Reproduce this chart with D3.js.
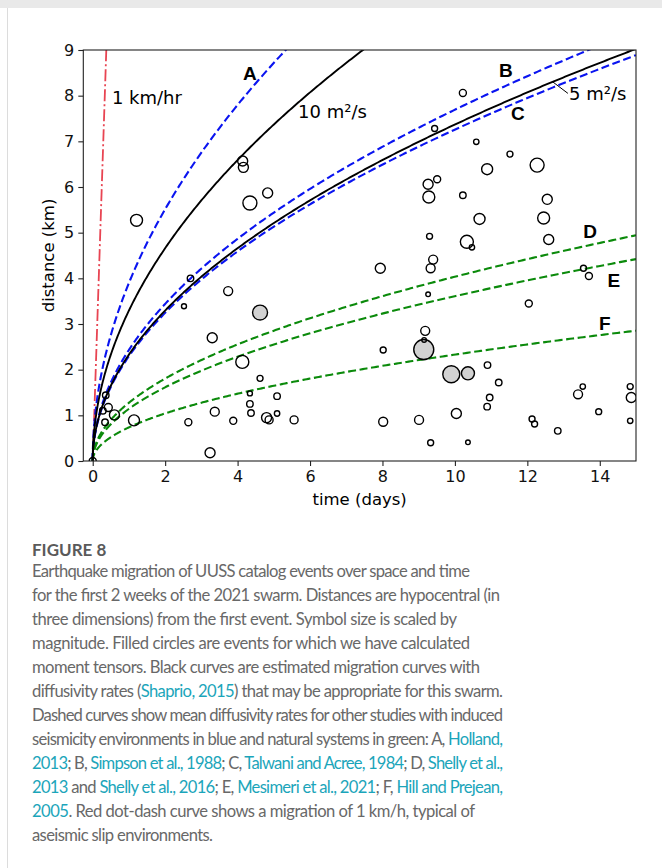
<!DOCTYPE html>
<html>
<head>
<meta charset="utf-8">
<script src="https://cdn.jsdelivr.net/npm/d3@7"></script>
<style>
  html, body { margin: 0; padding: 0; background: #fff; }
  svg { display: block; }
  .tick text { font-family: "DejaVu Sans", sans-serif; font-size: 16px; fill: #111; }
  .axis path, .axis line { stroke: #222; stroke-width: 1.1px; }
  .ann { font-family: "DejaVu Sans", sans-serif; font-size: 18px; fill: #000; }
  .letter { font-family: "Liberation Sans", Arial, sans-serif; font-size: 19px; font-weight: bold; fill: #000; }
  .caption { font-family: Lato, "Noto Sans", sans-serif; font-size: 16.6px; fill: #686868; }
  .caption .link { fill: #1ba5ba; }
</style>
</head>
<body>
<div id="chart"></div>
<script>
// event catalogue: time since first event (days), hypocentral distance (km), magnitude
var eventTime = [1.21, 4.14, 4.16, 4.83, 4.34, 2.70, 3.74, 2.52, 4.62, 3.30,
    4.13, 4.62, 4.34, 5.09, 4.34, 4.37, 5.09, 3.37, 3.88, 2.64,
    4.80, 4.87, 5.56, 3.24, 1.14, 0.60, 0.43, 0.36, 0.28, 0.34,
    0.00, 10.22, 9.44, 9.26, 9.51, 9.28, 10.22, 9.30, 10.68, 9.40,
    9.33, 7.94, 9.26, 10.59, 11.52, 10.89, 12.27, 12.55, 12.45, 12.59,
    10.33, 10.47, 13.55, 13.70, 12.04, 10.36, 10.90, 11.21, 10.96, 10.89,
    10.04, 12.13, 12.20, 12.84, 10.36, 13.40, 13.53, 13.97, 14.84, 14.87,
    14.84, 9.18, 9.14, 9.15, 8.02, 9.90, 8.02, 9.01, 9.33];
var eventDist = [5.27, 6.57, 6.43, 5.87, 5.65, 4.00, 3.72, 3.39, 3.25, 2.70,
    2.17, 1.81, 1.48, 1.42, 1.25, 1.05, 1.04, 1.08, 0.88, 0.85,
    0.95, 0.90, 0.90, 0.18, 0.89, 1.01, 1.17, 1.44, 1.10, 0.85,
    0.00, 8.06, 7.28, 6.06, 6.17, 5.78, 5.82, 4.92, 5.30, 4.41,
    4.22, 4.22, 3.65, 6.99, 6.72, 6.39, 6.48, 5.73, 5.32, 4.85,
    4.80, 4.68, 4.22, 4.05, 3.45, 1.92, 2.10, 1.72, 1.39, 1.19,
    1.04, 0.92, 0.81, 0.66, 0.41, 1.46, 1.63, 1.08, 1.63, 1.39,
    0.88, 2.85, 2.44, 2.65, 2.43, 1.90, 0.86, 0.90, 0.40];
var eventMag = [1.93, 1.67, 1.67, 1.67, 2.20, 1.20, 1.53, 1.00, 2.33, 1.67,
    2.07, 1.13, 1.00, 1.20, 1.20, 1.20, 1.05, 1.53, 1.27, 1.27,
    1.67, 1.40, 1.40, 1.67, 1.80, 1.67, 1.40, 1.20, 1.20, 1.20,
    1.27, 1.27, 1.13, 1.67, 1.27, 1.93, 1.20, 1.13, 1.80, 1.53,
    1.53, 1.67, 0.95, 1.05, 1.13, 1.80, 2.20, 1.67, 1.93, 1.67,
    2.07, 1.05, 1.13, 1.27, 1.27, 2.07, 1.20, 1.20, 1.20, 1.20,
    1.67, 1.13, 1.13, 1.20, 0.95, 1.53, 1.05, 1.13, 1.13, 1.67,
    1.05, 1.53, 3.00, 0.95, 1.13, 2.60, 1.53, 1.53, 1.13];
// events with a moment tensor (drawn filled)
var momentTensorEvents = [8, 55, 72, 75];

// migration curves r = sqrt(4*pi*D*t), D in m^2/s
var blackDiffusivity = [10, 5];
var blackLabels = ["10 m\u00b2/s", "5 m\u00b2/s"];
var studyLetters = ["A", "B", "C", "D", "E", "F"];
var studyDiffusivity = [14, 5.45, 4.85, 1.5, 1.2, 0.5];
var studyKind = ["induced", "induced", "induced", "natural", "natural", "natural"];
var slipRate = 1; // km/hr
var xTicks = [0, 2, 4, 6, 8, 10, 12, 14];
var yTicks = [0, 1, 2, 3, 4, 5, 6, 7, 8, 9];

var captionTitle = "FIGURE 8";
var captionLines = [
    [["Earthquake migration of UUSS catalog events over space and time"]],
    [["for the first 2 weeks of the 2021 swarm. Distances are hypocentral (in"]],
    [["three dimensions) from the first event. Symbol size is scaled by"]],
    [["magnitude. Filled circles are events for which we have calculated"]],
    [["moment tensors. Black curves are estimated migration curves with"]],
    [["diffusivity rates ("], ["Shaprio, 2015", 1], [") that may be appropriate for this swarm."]],
    [["Dashed curves show mean diffusivity rates for other studies with induced"]],
    [["seismicity environments in blue and natural systems in green: A, "], ["Holland,", 1]],
    [["2013", 1], ["; B, "], ["Simpson et al., 1988", 1], ["; C, "], ["Talwani and Acree, 1984", 1], ["; D, "], ["Shelly et al.,", 1]],
    [["2013", 1], [" and "], ["Shelly et al., 2016", 1], ["; E, "], ["Mesimeri et al., 2021", 1], ["; F, "], ["Hill and Prejean,", 1]],
    [["2005", 1], [". Red dot-dash curve shows a migration of 1 km/h, typical of"]],
    [["aseismic slip environments."]]
];
var captionWidths = [438, 468, 425, 438, 448, 471, 471, 471, 471, 471, 443, 181];

var width = 662, height = 868;
var margin = {top: 50, left: 83.3, right: 26, bottom: 407};

var svg = d3.select("#chart").append("svg")
    .attr("width", width)
    .attr("height", height);

// page card
svg.append("rect").attr("x", 0).attr("y", 0).attr("width", width).attr("height", 8).attr("fill", "#e9e9e9");
svg.append("line").attr("x1", 7.5).attr("x2", 7.5).attr("y1", 8).attr("y2", height)
    .attr("stroke", "#dcdcdc").attr("stroke-width", 1);

var x = d3.scaleLinear().domain([-0.26, 15]).range([margin.left, width - margin.right]);
var y = d3.scaleLinear().domain([0, 9]).range([height - margin.bottom, margin.top]);
var rScale = d3.scaleLinear().domain([1, 3]).range([2.5, 10]);

svg.append("clipPath").attr("id", "plot-clip")
    .append("rect")
    .attr("x", x.range()[0]).attr("y", y.range()[1])
    .attr("width", x.range()[1] - x.range()[0])
    .attr("height", y.range()[0] - y.range()[1]);

var plot = svg.append("g").attr("clip-path", "url(#plot-clip)");

function migration(D) {
    // distance in km after t days
    return function (t) {
        return Math.sqrt(4 * Math.PI * D * t * 86400) / 1000;
    };
}

var tSamples = d3.range(0, 401).map(function (i) {
    return 15 * Math.pow(i / 400, 2);
});

var line = d3.line()
    .x(function (d) { return x(d[0]); })
    .y(function (d) { return y(d[1]); });

function curvePoints(D) {
    var f = migration(D);
    return tSamples.map(function (t) { return [t, f(t)]; });
}

// red 1 km/hr line
plot.append("path")
    .attr("d", line([[0, 0], [10 / (24 * slipRate), 10]]))
    .attr("fill", "none")
    .attr("stroke", "#e84452")
    .attr("stroke-width", 1.8)
    .attr("stroke-dasharray", "12,3,2,3");

// study curves
studyDiffusivity.forEach(function (D, i) {
    plot.append("path")
        .attr("d", line(curvePoints(D)))
        .attr("fill", "none")
        .attr("stroke", studyKind[i] === "induced" ? "#0a14f0" : "#0b8a0b")
        .attr("stroke-width", 2.1)
        .attr("stroke-dasharray", "8,3.6");
});

// black curves
blackDiffusivity.forEach(function (D) {
    plot.append("path")
        .attr("d", line(curvePoints(D)))
        .attr("fill", "none")
        .attr("stroke", "#000")
        .attr("stroke-width", 1.9);
});

// events, filled ones first
var events = eventTime.map(function (t, i) {
    return {t: t, d: eventDist[i], m: eventMag[i], mt: momentTensorEvents.indexOf(i) >= 0};
});
events.sort(function (a, b) { return (b.mt ? 1 : 0) - (a.mt ? 1 : 0); });

plot.selectAll("circle.event")
    .data(events)
    .enter().append("circle")
    .attr("class", "event")
    .attr("cx", function (d) { return x(d.t); })
    .attr("cy", function (d) { return y(d.d); })
    .attr("r", function (d) { return rScale(d.m); })
    .attr("fill", function (d) { return d.mt ? "#d2d2d2" : "none"; })
    .attr("stroke", "#000")
    .attr("stroke-width", 1.4);

// frame
svg.append("rect")
    .attr("x", x.range()[0]).attr("y", y.range()[1])
    .attr("width", x.range()[1] - x.range()[0])
    .attr("height", y.range()[0] - y.range()[1])
    .attr("fill", "none")
    .attr("stroke", "#222")
    .attr("stroke-width", 1.1);

svg.append("g")
    .attr("class", "x axis")
    .attr("transform", "translate(0," + y.range()[0] + ")")
    .call(d3.axisBottom(x).tickValues(xTicks).tickSize(5).tickPadding(5).tickFormat(d3.format("d")))
    .call(function (g) { g.select(".domain").remove(); });

svg.append("g")
    .attr("class", "y axis")
    .attr("transform", "translate(" + x.range()[0] + ",0)")
    .call(d3.axisLeft(y).tickValues(yTicks).tickSize(5).tickPadding(4).tickFormat(d3.format("d")))
    .call(function (g) { g.select(".domain").remove(); });

svg.append("text")
    .attr("class", "ann")
    .attr("x", (x.range()[0] + x.range()[1]) / 2)
    .attr("y", 505)
    .attr("text-anchor", "middle")
    .style("font-size", "16.5px")
    .text("time (days)");

svg.append("text")
    .attr("class", "ann")
    .attr("transform", "rotate(270)")
    .attr("x", -(y.range()[0] + y.range()[1]) / 2)
    .attr("y", 54)
    .attr("text-anchor", "middle")
    .style("font-size", "16.5px")
    .text("distance (km)");

// annotations
svg.append("text").attr("class", "ann")
    .attr("x", x(0.53)).attr("y", y(7.82))
    .text(slipRate + " km/hr");

svg.append("text").attr("class", "ann")
    .attr("x", x(5.67)).attr("y", y(7.51))
    .text(blackLabels[0]);

var leaderT = 12.7;
svg.append("line")
    .attr("x1", x(leaderT)).attr("y1", y(migration(blackDiffusivity[1])(leaderT)))
    .attr("x2", x(13.12)).attr("y2", y(8.05))
    .attr("stroke", "#000").attr("stroke-width", 1);

svg.append("text").attr("class", "ann")
    .attr("x", x(13.15)).attr("y", y(7.9))
    .text(blackLabels[1]);

var letterPos = [[4.34, 8.34], [11.41, 8.41], [11.74, 7.46], [13.73, 4.88], [14.39, 3.81], [14.14, 2.87]];
studyLetters.forEach(function (s, i) {
    svg.append("text").attr("class", "letter")
        .attr("x", x(letterPos[i][0])).attr("y", y(letterPos[i][1]))
        .attr("text-anchor", "middle")
        .text(s);
});

// caption
svg.append("text")
    .attr("class", "caption")
    .attr("x", 32).attr("y", 556)
    .style("font-weight", "bold")
    .style("font-size", "17px")
    .style("fill", "#5a5a5a")
    .text(captionTitle);

captionLines.forEach(function (segs, i) {
    var t = svg.append("text")
        .attr("class", "caption")
        .attr("x", 32)
        .attr("y", 577 + i * 24)
        .attr("textLength", captionWidths[i])
        .attr("lengthAdjust", "spacing");
    segs.forEach(function (s) {
        t.append("tspan").attr("class", s[1] ? "link" : null).text(s[0]);
    });
});
</script>
</body>
</html>
